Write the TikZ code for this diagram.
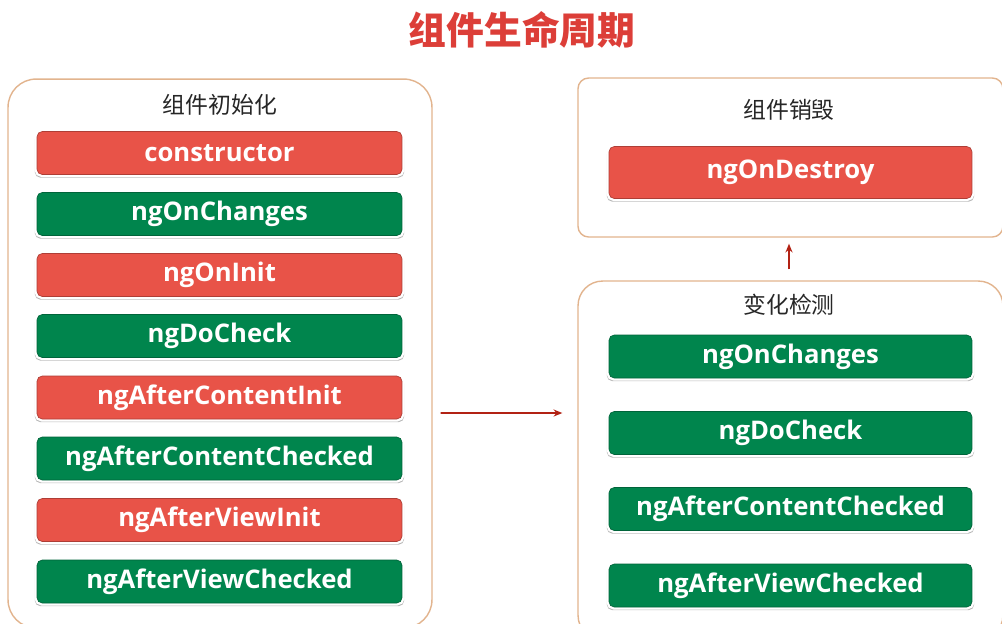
\documentclass[tikz,border=0pt]{standalone}
\usepackage{fontspec}
\setmainfont{Open Sans}
\newfontfamily\cjk{Noto Sans CJK SC}
\usetikzlibrary{shadows,arrows.meta}
\definecolor{barred}{RGB}{232,83,72}
\definecolor{bargreen}{RGB}{0,133,77}
\definecolor{frameline}{RGB}{226,180,142}
\definecolor{arrowred}{RGB}{178,34,20}
\definecolor{titlered}{RGB}{220,62,56}
\begin{document}
\begin{tikzpicture}[x=0.02cm,y=-0.02cm,
  frame/.style={draw=frameline,line width=0.8pt,rounded corners=#1,fill=white},
  bar/.style={fill=#1,draw=#1!75!black,line width=0.4pt,rounded corners=3pt,minimum height=0.86cm,
    text=white,font=\bfseries\fontsize{14.6}{18}\selectfont,
    drop shadow={shadow xshift=0pt,shadow yshift=-1.6pt,shadow scale=1.012,fill=black,opacity=0.28},
    preaction={draw=white,line width=3pt}},
  flow/.style={draw=arrowred,line width=0.9pt,-{Stealth[length=5pt,width=4pt]}}]
\useasboundingbox (0,0) rectangle (1002,623);
\clip (0,0) rectangle (1002,623);
\fill[white] (0,0) rectangle (1002,623);
\node[font=\cjk\bfseries\fontsize{21.5}{24}\selectfont,text=titlered] (title) at (522,30) {组件生命周期};
% frames
\node[frame=16pt,minimum width=8.48cm,minimum height=10.98cm] (init) at (220,353.5) {};
\node[frame=6pt,minimum width=8.5cm,minimum height=3.18cm] (destroy) at (790.5,157.5) {};
\node[frame=14pt,minimum width=8.5cm,minimum height=7.18cm] (check) at (790.5,460.5) {};
\node[font=\cjk\fontsize{13}{15}\selectfont,text=black!85] (initname) at (220,105) {组件初始化};
\node[font=\cjk\fontsize{13}{15}\selectfont,text=black!85] (destroyname) at (789,110) {组件销毁};
\node[font=\cjk\fontsize{13}{15}\selectfont,text=black!85] (checkname) at (789,305) {变化检测};
% init hooks
\node[bar=barred,minimum width=7.3cm] (i1) at (219.5,153) {constructor};
\node[bar=bargreen,minimum width=7.3cm] (i2) at (219.5,214) {ngOnChanges};
\node[bar=barred,minimum width=7.3cm] (i3) at (219.5,275) {ngOnInit};
\node[bar=bargreen,minimum width=7.3cm] (i4) at (219.5,336) {ngDoCheck};
\node[bar=barred,minimum width=7.3cm] (i5) at (219.5,397.5) {ngAfterContentInit};
\node[bar=bargreen,minimum width=7.3cm] (i6) at (219.5,458.5) {ngAfterContentChecked};
\node[bar=barred,minimum width=7.3cm] (i7) at (219.5,520) {ngAfterViewInit};
\node[bar=bargreen,minimum width=7.3cm] (i8) at (219.5,581.5) {ngAfterViewChecked};
% destroy hook
\node[bar=barred,minimum width=7.26cm,minimum height=1.04cm] (d1) at (790.5,172.5) {ngOnDestroy};
% check hooks
\node[bar=bargreen,minimum width=7.26cm] (c1) at (790.5,356.5) {ngOnChanges};
\node[bar=bargreen,minimum width=7.26cm] (c2) at (790.5,433) {ngDoCheck};
\node[bar=bargreen,minimum width=7.26cm] (c3) at (790.5,509) {ngAfterContentChecked};
\node[bar=bargreen,minimum width=7.26cm] (c4) at (790.5,585.5) {ngAfterViewChecked};
% arrows
\draw[flow,shorten <=0.16cm,shorten >=0.3cm] ([yshift=-1.19cm]init.east) -- ([yshift=0.95cm]check.west);
\draw[flow,shorten <=0.22cm,shorten >=0.12cm] ([xshift=-0.03cm]check.north) -- ([xshift=-0.03cm]destroy.south);
\end{tikzpicture}
\end{document}
